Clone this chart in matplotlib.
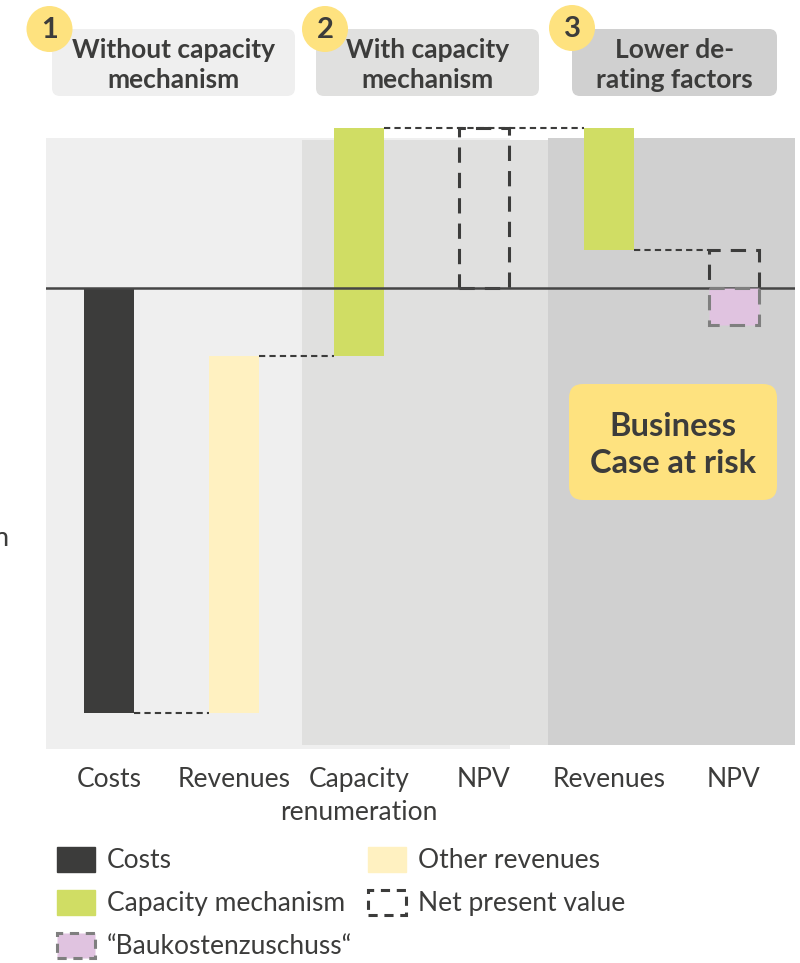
import numpy as np
import matplotlib.pyplot as plt
from matplotlib.patches import Rectangle, FancyBboxPatch, Circle

plt.rcParams['font.family'] = ['Lato', 'DejaVu Sans']

# data (EUR mn)
categories = ['Costs', 'Revenues', 'Capacity\nrenumeration', 'NPV', 'Revenues', 'NPV']
costs = -100.0
other_revenues = 84.0
capacity_rev = 53.5
npv_with = costs + other_revenues + capacity_rev
capacity_loss = -28.7
npv_lower = npv_with + capacity_loss
baukostenzuschuss = -npv_lower

steps = ['Without capacity\nmechanism', 'With capacity\nmechanism', 'Lower de-\nrating factors']

DARK = '#3c3c3b'
YELLOW = '#fff1c1'
GREEN = '#d0dd64'
PINK = '#e0c3e0'
CALLOUT = '#fee27f'
PANELS = ['#efefef', '#e0e0df', '#d0d0d0']

fig = plt.figure(figsize=(8, 9.63), dpi=100)
ax = fig.add_axes([46/800, 1-749/963, 749/800, 629/963])
ax.set_xlim(-0.504, 5.488)
ax.set_ylim(-108.5, 39.5)
for s in ax.spines.values():
    s.set_visible(False)
ax.set_yticks([])

# background panels
ax.add_patch(Rectangle((-0.504, -108.5), 3.712, 143.8, color=PANELS[0], zorder=0, lw=0))
ax.add_patch(Rectangle((1.544, -107.6), 1.968, 142.4, color=PANELS[1], zorder=0.1, lw=0))
ax.add_patch(Rectangle((3.512, -107.6), 1.976, 142.9, color=PANELS[2], zorder=0.1, lw=0))

x = np.arange(len(categories))
w = 0.4
dash = (0, (5, 3.3))
ax.bar(x[0], costs, w, bottom=0, color=DARK, zorder=2)
ax.bar(x[1], other_revenues, w, bottom=costs, color=YELLOW, zorder=2)
ax.bar(x[2], capacity_rev, w, bottom=costs + other_revenues, color=GREEN, zorder=2)
ax.bar(x[3], npv_with, w, bottom=0, fill=False, edgecolor=DARK, lw=2.2,
       linestyle=dash, zorder=2.8)
ax.bar(x[4], -capacity_loss, w, bottom=npv_lower, color=GREEN, zorder=2)
ax.bar(x[5], npv_lower, w, bottom=0, fill=False, edgecolor=DARK, lw=2.2,
       linestyle=dash, zorder=2.8)

ax.axhline(0, color='#454545', lw=1.8, zorder=3)

ax.bar(x[5], baukostenzuschuss, w, bottom=0, color=PINK, edgecolor='#7f7f7f', lw=2.2,
       linestyle=dash, zorder=3.5)

# connectors
conn = dict(color=DARK, lw=1.5, linestyle=(0, (3, 2)), zorder=2.5)
ax.plot([x[0] + w/2, x[1] - w/2], [costs, costs], **conn)
ax.plot([x[1] + w/2, x[2] - w/2], [costs + other_revenues] * 2, **conn)
ax.plot([x[2] + w/2, x[4] - w/2], [npv_with, npv_with], **conn)
ax.plot([x[4] + w/2, x[5] - w/2], [npv_lower, npv_lower], **conn)

ax.set_xticks(x)
ax.set_xticklabels(categories, fontsize=19, color=DARK, linespacing=1.42)
ax.tick_params(axis='x', length=0, pad=13)

# overlay in pixel coordinates for headers and callout
ov = fig.add_axes([0, 0, 1, 1])
ov.set_xlim(0, 800)
ov.set_ylim(963, 0)
ov.axis('off')

boxes = [(52, 295), (316, 539), (572, 777)]
circles = [(49.5, 29), (325, 29), (572, 28)]
for i, (label, (x0, x1), (cx, cy)) in enumerate(zip(steps, boxes, circles)):
    ov.add_patch(FancyBboxPatch((x0 + 8, 29 + 8), x1 - x0 - 16, 67 - 16,
                                boxstyle='round,pad=8', color=PANELS[i], lw=0))
    ov.text((x0 + x1) / 2, 65, label, ha='center', va='center', fontsize=19,
            fontweight='bold', color=DARK, linespacing=1.3)
    ov.add_patch(Circle((cx, cy), 23, color=CALLOUT, lw=0))
    ov.text(cx, cy + 1, str(i + 1), ha='center', va='center', fontsize=21,
            fontweight='bold', color=DARK)

ov.add_patch(FancyBboxPatch((569 + 14, 384 + 14), 208 - 28, 116 - 28,
                            boxstyle='round,pad=14', color=CALLOUT, lw=0))
ov.text(673, 445, 'Business\nCase at risk', ha='center', va='center', fontsize=23.5,
        fontweight='bold', color=DARK, linespacing=1.33)

ov.text(9, 538, 'EUR mn', ha='right', va='center', fontsize=19.5, color=DARK)

# legend
handles = [
    Rectangle((0, 0), 1, 1, color=DARK),
    Rectangle((0, 0), 1, 1, color=GREEN),
    Rectangle((0, 0), 1, 1, facecolor=PINK, edgecolor='#7f7f7f', lw=2.2, linestyle=(0, (3, 2.2))),
    Rectangle((0, 0), 1, 1, color=YELLOW),
    Rectangle((0, 0), 1, 1, facecolor='none', edgecolor=DARK, lw=2.2, linestyle=(0, (3, 2.2))),
]
labels = ['Costs', 'Capacity mechanism', '\u201cBaukostenzuschuss\u201c', 'Other revenues',
          'Net present value']
leg = fig.legend(handles, labels, ncol=2, loc='upper left',
                 bbox_to_anchor=(57/800, 1 - 847/963), frameon=False, fontsize=19,
                 handlelength=1.45, handleheight=1.08, handletextpad=0.45,
                 labelspacing=0.62, columnspacing=0.6, borderaxespad=0, borderpad=0)
for t in leg.get_texts():
    t.set_color(DARK)

fig.savefig('out.png', dpi=100)
